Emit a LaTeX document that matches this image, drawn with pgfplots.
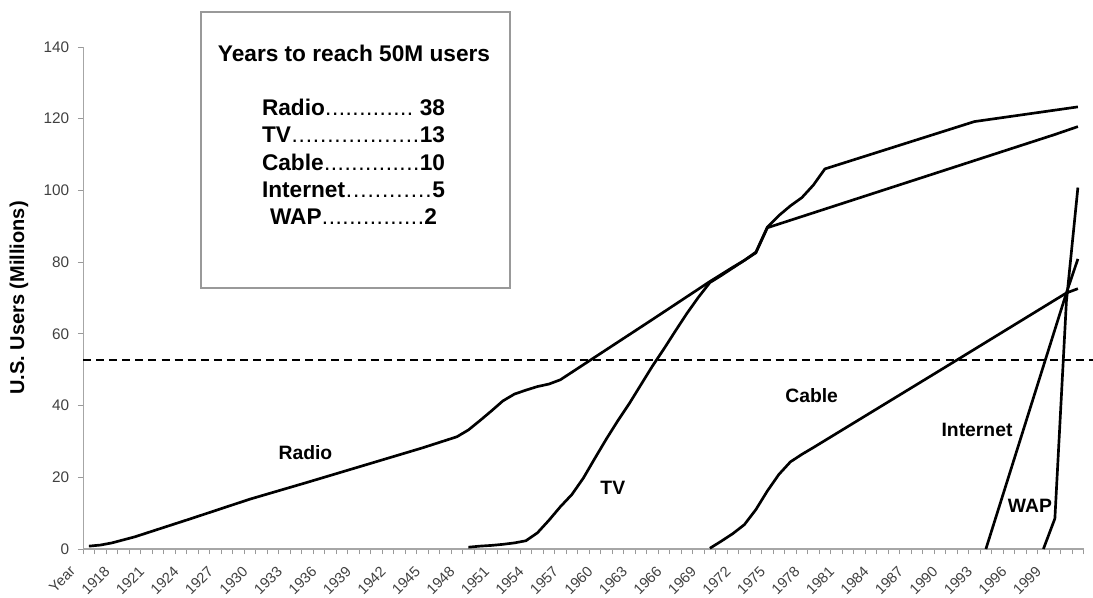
\documentclass[border=0pt]{standalone}
\usepackage{fontspec}
\setmainfont{Liberation Sans}
\usepackage{pgfplots}
\pgfplotsset{compat=1.18}
\begin{document}
\begin{tikzpicture}[
  xlab/.style={xshift=-3.5pt, yshift=-14.8pt, rotate=45, anchor=east, inner sep=0pt, font=\fontsize{11}{13}\selectfont, text=black!75},
  slab/.style={font=\bfseries\fontsize{14.5}{17}\selectfont, anchor=center},
  ser/.style={draw=black, solid, line width=2pt, line join=round, mark=none},
]
\path[use as bounding box] (-62.3625pt,-36pt) rectangle (757.3875pt,411.75pt);
\begin{axis}[
  at={(0pt,0pt)}, anchor=south west,
  scale only axis, width=750.375pt, height=376.5pt,
  xmin=1915.5, xmax=2002.5, ymin=0, ymax=140,
  clip=false,
  axis lines=left,
  axis line style={-, draw=black!35, line width=0.9pt},
  tick align=outside,
  major tick length=4pt,
  tick style={draw=black!40, line width=0.7pt},
  xtick={1915.5,1916.5,...,2002.5},
  xticklabels={},
  ytick={0,20,...,140},
  /pgf/number format/assume math mode=true,
  yticklabel style={font=\fontsize{11.5}{13}\selectfont, text=black!75, xshift=-3pt},
  ylabel={U.S. Users (Millions)},
  ylabel style={font=\bfseries\fontsize{15}{18}\selectfont, at={(axis description cs:-0.0641,0.5)}, anchor=center},
]
% Radio
\addplot[ser] coordinates {(1916,0.8) (1917,1.1) (1918,1.7) (1920,3.4) (1925,8.6) (1930,13.9) (1935,18.6) (1940,23.4) (1945,28.2) (1948,31.3) (1949,33.2) (1950,35.8) (1951,38.5) (1952,41.3) (1953,43.2) (1954,44.3) (1955,45.3) (1956,46.0) (1957,47.2) (1960,53.5) (1965,64.0) (1970,74.6) (1971,76.6) (1972,78.6) (1973,80.5) (1974,82.6) (1975,89.6) (1980,94.8) (1985,100.0) (1990,105.2) (1995,110.4) (2000,115.6) (2002,117.8)};
% TV
\addplot[ser] coordinates {(1949,0.5) (1950,0.8) (1951,1.0) (1952,1.3) (1953,1.7) (1954,2.3) (1955,4.5) (1956,8.0) (1957,11.8) (1958,15.2) (1959,19.8) (1960,25.3) (1961,30.7) (1962,35.8) (1963,40.6) (1964,45.8) (1965,51.0) (1966,55.8) (1967,60.8) (1968,65.7) (1969,70.2) (1970,74.3) (1971,76.3) (1972,78.4) (1973,80.5) (1974,82.8) (1975,89.8) (1976,93.0) (1977,95.7) (1978,98.0) (1979,101.5) (1980,106.0) (1993,119.2) (2002,123.3)};
% Cable
\addplot[ser] coordinates {(1970,0.2) (1971,2.2) (1972,4.3) (1973,6.8) (1974,11.0) (1975,16.2) (1976,20.8) (1977,24.3) (1978,26.4) (1979,28.3) (1990,49.8) (2001,71.4) (2002,72.6)};
% Internet
\addplot[ser] coordinates {(1994,0) (2001,71.4) (2002,80.9)};
% WAP
\addplot[ser] coordinates {(1999,0) (2000,8.5) (2001,69.0) (2002,100.8)};
% 50M threshold
\addplot[draw=black, mark=none, line width=1.1pt, dash pattern=on 6pt off 3.8pt] coordinates {(1915.5,52.7) (2003.3,52.7)};

\node[slab] at (axis cs:1934.83,26.77) {Radio};
\node[slab] at (axis cs:1961.56,17.0) {TV};
\node[slab] at (axis cs:1978.85,42.9) {Cable};
\node[slab] at (axis cs:1993.23,33.2) {Internet};
\node[slab] at (axis cs:1997.83,12.0) {WAP};

\node[xlab] at (axis cs:1915,0) {Year};
\pgfplotsinvokeforeach{1918,1921,1924,1927,1930,1933,1936,1939,1942,1945,1948,1951,1954,1957,1960,1963,1966,1969,1972,1975,1978,1981,1984,1987,1990,1993,1996,1999}{
  \node[xlab] at (axis cs:#1,0) {#1};
}
\end{axis}
\begin{scope}[x=0.75pt,y=0.75pt]
\draw[draw=black!40, line width=1pt] (117.85,537) rectangle (426.85,261);
\def\lfont{\bfseries\fontsize{17}{20}\selectfont}
\def\dl{\xleaders\hbox to 5.1pt{\hss\mdseries.\hss}\hfill}
\node[anchor=base, inner sep=0pt, font=\lfont] at (270.85,487.3) {Years to reach 50M users};
\node[anchor=base, inner sep=0pt, font=\lfont] at (270.35,433) {\makebox[137.25pt]{Radio\dl\ 38}};
\node[anchor=base, inner sep=0pt, font=\lfont] at (270.35,406) {\makebox[137.25pt]{TV\dl 13}};
\node[anchor=base, inner sep=0pt, font=\lfont] at (270.35,378.5) {\makebox[137.25pt]{Cable\dl 10}};
\node[anchor=base, inner sep=0pt, font=\lfont] at (270.35,351.5) {\makebox[137.25pt]{Internet\dl 5}};
\node[anchor=base, inner sep=0pt, font=\lfont] at (270.35,324) {\makebox[125.25pt]{WAP\dl 2}};
\end{scope}
\end{tikzpicture}
\end{document}
